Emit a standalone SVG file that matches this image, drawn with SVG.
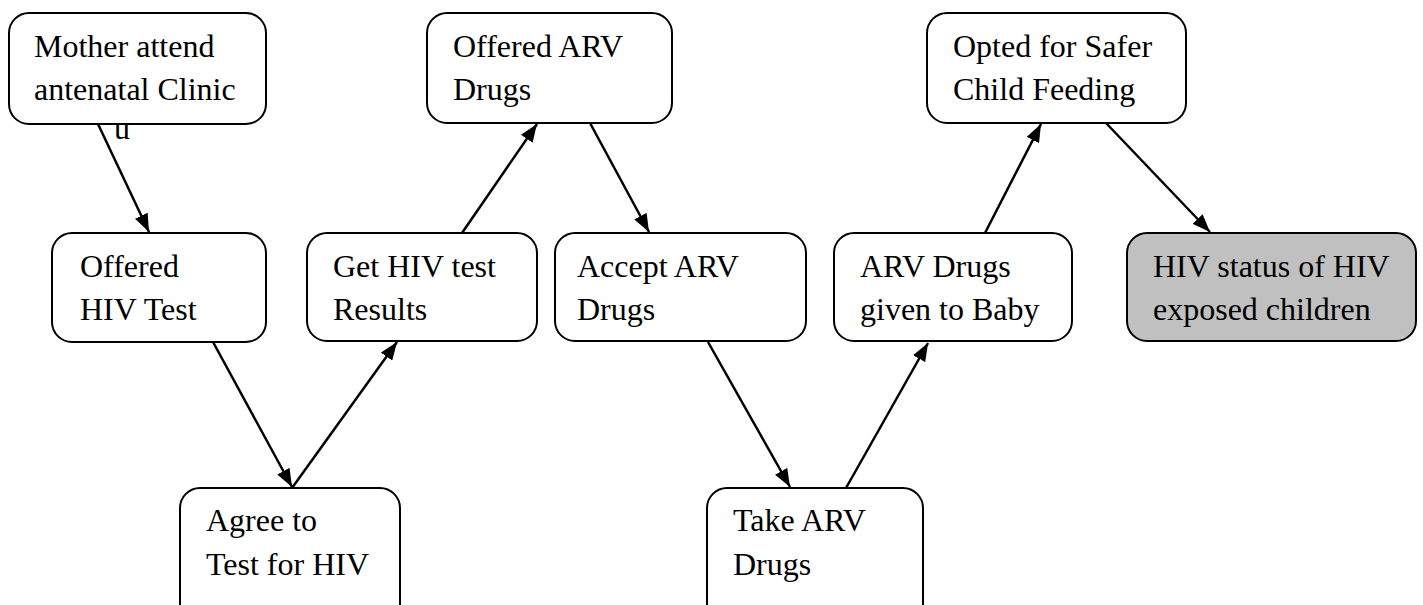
<svg xmlns="http://www.w3.org/2000/svg" width="1423" height="605" viewBox="0 0 1423 605">
<style>
.box{fill:#fff;stroke:#000;stroke-width:2}
.grey{fill:#c0c0c0}
text{font-family:"Liberation Serif","Times New Roman",serif;font-size:32px;fill:#000}
.edge{stroke:#000;stroke-width:2.5;fill:none;marker-end:url(#ah)}
</style>
<defs>
<marker id="ah" viewBox="0 0 18 14" refX="18" refY="7" markerWidth="18" markerHeight="14" markerUnits="userSpaceOnUse" orient="auto">
<path d="M0,0 L18,7 L0,14 Z" fill="#000"/>
</marker>
</defs>
<rect width="1423" height="605" fill="#fff"/>
<g id="connectors">
<line class="edge" x1="98" y1="124" x2="149" y2="232"/>
<line class="edge" x1="213" y1="342" x2="292" y2="487"/>
<line class="edge" x1="292" y1="488" x2="397" y2="342"/>
<line class="edge" x1="462" y1="233" x2="537" y2="124"/>
<line class="edge" x1="590" y1="123" x2="649" y2="232"/>
<line class="edge" x1="708" y1="342" x2="790" y2="487"/>
<line class="edge" x1="846" y1="488" x2="928" y2="343"/>
<line class="edge" x1="985" y1="233" x2="1041" y2="124"/>
<line class="edge" x1="1106" y1="123" x2="1210" y2="232"/>
</g>
<g id="n1"><rect class="box" x="9" y="13" width="257" height="111" rx="20"/><text x="34" y="57">Mother attend</text><text x="34" y="100">antenatal Clinic</text><text x="114" y="139">u</text></g>
<g id="n2"><rect class="box" x="52" y="233" width="214" height="109" rx="20"/><text x="80" y="277">Offered</text><text x="80" y="320">HIV Test</text></g>
<g id="n3"><rect class="box" x="180" y="488" width="220" height="140" rx="20"/><text x="206" y="531">Agree to</text><text x="206" y="575">Test for HIV</text></g>
<g id="n4"><rect class="box" x="307" y="233" width="230" height="108" rx="20"/><text x="333" y="277">Get HIV test</text><text x="333" y="320">Results</text></g>
<g id="n5"><rect class="box" x="427" y="13" width="245" height="110" rx="20"/><text x="453" y="57">Offered ARV</text><text x="453" y="100">Drugs</text></g>
<g id="n6"><rect class="box" x="555" y="233" width="251" height="108" rx="20"/><text x="577" y="277">Accept ARV</text><text x="577" y="320">Drugs</text></g>
<g id="n7"><rect class="box" x="707" y="488" width="216" height="140" rx="20"/><text x="733" y="531">Take ARV</text><text x="733" y="575">Drugs</text></g>
<g id="n8"><rect class="box" x="834" y="233" width="238" height="108" rx="20"/><text x="860" y="277">ARV Drugs</text><text x="860" y="320">given to Baby</text></g>
<g id="n9"><rect class="box" x="927" y="13" width="259" height="110" rx="20"/><text x="953" y="57">Opted for Safer</text><text x="953" y="100">Child Feeding</text></g>
<g id="n10"><rect class="box grey" x="1127" y="233" width="289" height="108" rx="20"/><text x="1153" y="277">HIV status of HIV</text><text x="1153" y="320">exposed children</text></g>
</svg>
